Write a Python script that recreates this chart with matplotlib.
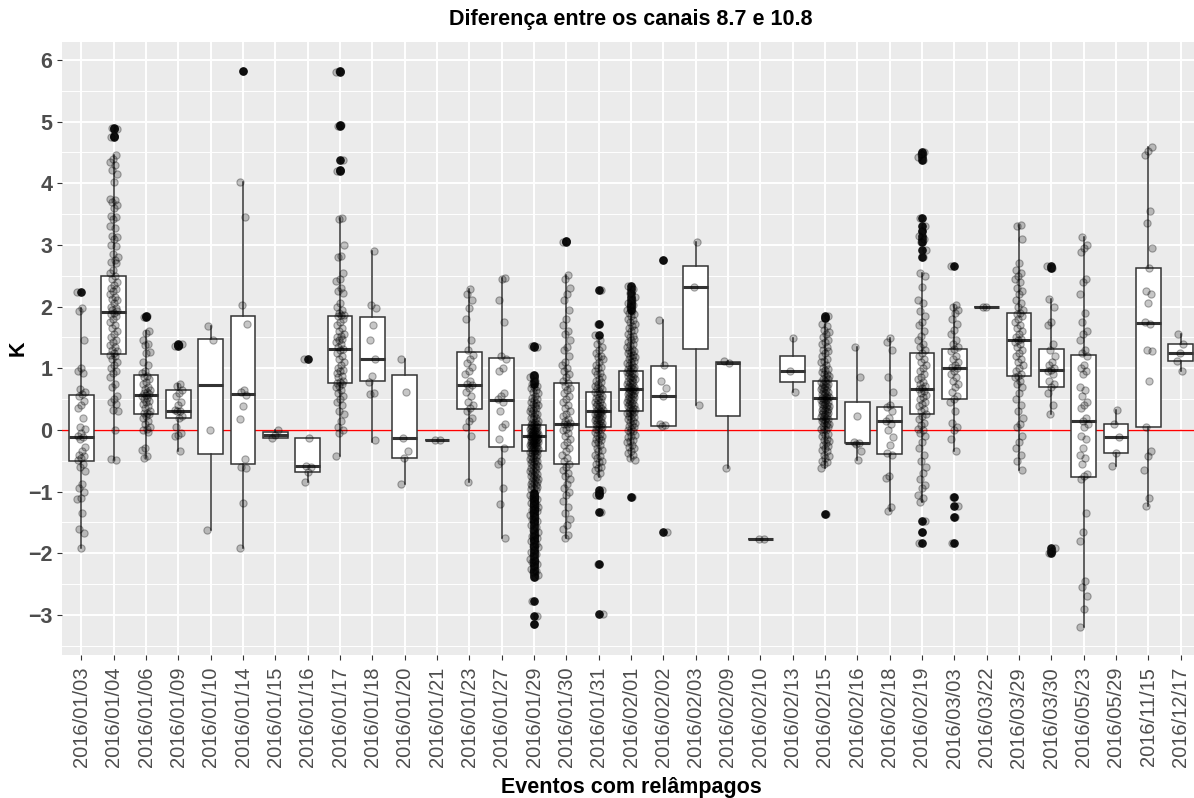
"""
Diferença entre os canais 8.7 e 10.8 - boxplot + jitter per lightning event
"""
import numpy as np
import matplotlib
matplotlib.use('Agg')
import matplotlib.pyplot as plt

plt.rcParams['font.family'] = ['Liberation Sans', 'DejaVu Sans']

# ── Data ───────────────────────────────────────────────────────────────────
dates = ['2016/01/03', '2016/01/04', '2016/01/06', '2016/01/09', '2016/01/10',
         '2016/01/14', '2016/01/15', '2016/01/16', '2016/01/17', '2016/01/18',
         '2016/01/20', '2016/01/21', '2016/01/23', '2016/01/27', '2016/01/29',
         '2016/01/30', '2016/01/31', '2016/02/01', '2016/02/02', '2016/02/03',
         '2016/02/09', '2016/02/10', '2016/02/13', '2016/02/15', '2016/02/16',
         '2016/02/18', '2016/02/19', '2016/03/03', '2016/03/22', '2016/03/29',
         '2016/03/30', '2016/05/23', '2016/05/29', '2016/11/15', '2016/12/17']

# box stats: q1, median, q3, lower whisker, upper whisker
q1 = [-0.50, 1.23, 0.25, 0.19, -0.39, -0.55, -0.13, -0.69, 0.76, 0.80,
      -0.46, -0.16, 0.34, -0.27, -0.35, -0.55, 0.04, 0.31, 0.06, 1.32,
      0.23, -1.77, 0.78, 0.17, -0.22, -0.39, 0.26, 0.50, 1.99, 0.88,
      0.69, -0.76, -0.37, 0.04, 1.11]
med = [-0.12, 1.91, 0.57, 0.31, 0.73, 0.58, -0.08, -0.58, 1.32, 1.15,
       -0.13, -0.16, 0.73, 0.49, -0.10, 0.09, 0.31, 0.66, 0.55, 2.31,
       1.09, -1.77, 0.95, 0.51, -0.21, 0.15, 0.66, 1.01, 1.99, 1.45,
       0.97, 0.15, -0.12, 1.73, 1.25]
q3 = [0.57, 2.50, 0.89, 0.65, 1.47, 1.85, -0.04, -0.13, 1.85, 1.83,
      0.89, -0.16, 1.26, 1.17, 0.08, 0.76, 0.61, 0.96, 1.03, 2.66,
      1.10, -1.77, 1.20, 0.80, 0.46, 0.37, 1.24, 1.32, 1.99, 1.89,
      1.31, 1.22, 0.09, 2.62, 1.39]
whis_lo = [-1.92, -0.49, -0.45, -0.35, -1.62, -1.92, -0.13, -0.85, -0.42, -0.19,
           -0.87, -0.16, -0.85, -1.75, -0.98, -1.76, -0.76, -0.49, 0.06, 0.40,
           -0.61, -1.77, 0.62, -0.62, -0.49, -1.31, -1.17, -0.35, 1.99, -0.65,
           0.26, -3.20, -0.58, -1.24, 0.96]
whis_hi = [1.97, 4.45, 1.60, 0.75, 1.68, 4.02, 0.00, -0.13, 3.43, 2.90,
           1.15, -0.16, 2.28, 2.47, 0.72, 2.51, 1.47, 1.92, 1.79, 3.05,
           1.11, -1.77, 1.49, 1.72, 1.34, 1.49, 2.54, 2.03, 2.00, 3.33,
           2.12, 3.12, 0.32, 4.59, 1.56]

# individual observations (K), estimated from the jittered points
points = [
    [2.23, 1.97, 1.93, 1.45, 1.0, 0.95, 0.92, 0.67, 0.62, 0.58, 0.55, 0.47, 0.4,
     0.35, 0.2, 0.05, 0.02, -0.05, -0.1, -0.12, -0.15, -0.28, -0.35, -0.4, -0.43,
     -0.45, -0.48, -0.55, -0.6, -0.67, -0.87, -0.95, -1.0, -1.1, -1.12, -1.35,
     -1.6, -1.67, -1.92],
    [4.9, 4.88, 4.77, 4.75, 4.45, 4.4, 4.35, 4.3, 4.22, 4.15, 4.02, 3.75, 3.72,
     3.7, 3.65, 3.6, 3.47, 3.45, 3.42, 3.3, 3.27, 3.15, 3.12, 3.1, 3.0, 2.98,
     2.85, 2.8, 2.75, 2.72, 2.7, 2.6, 2.55, 2.5, 2.45, 2.4, 2.35, 2.3, 2.28,
     2.25, 2.2, 2.15, 2.12, 2.1, 2.05, 2.0, 1.98, 1.95, 1.92, 1.9, 1.88, 1.85,
     1.8, 1.75, 1.7, 1.65, 1.6, 1.55, 1.5, 1.45, 1.42, 1.38, 1.35, 1.3, 1.28,
     1.25, 1.22, 1.2, 1.15, 1.1, 1.05, 1.0, 0.95, 0.92, 0.85, 0.75, 0.7, 0.55,
     0.5, 0.45, 0.42, 0.32, 0.3, 0.0, -0.47, -0.48],
    [1.84, 1.83, 1.6, 1.57, 1.45, 1.4, 1.38, 1.27, 1.25, 1.1, 1.05, 0.95, 0.92,
     0.88, 0.85, 0.82, 0.78, 0.75, 0.7, 0.67, 0.65, 0.62, 0.6, 0.58, 0.57, 0.55,
     0.52, 0.5, 0.47, 0.45, 0.42, 0.38, 0.35, 0.3, 0.28, 0.27, 0.25, 0.22, 0.2,
     0.15, 0.1, 0.05, 0.02, 0.0, -0.03, -0.3, -0.33, -0.42, -0.45],
    [1.4, 1.38, 1.36, 0.75, 0.72, 0.65, 0.6, 0.55, 0.45, 0.4, 0.33, 0.31, 0.3,
     0.22, 0.2, 0.05, -0.05, -0.08, -0.1, -0.35],
    [1.68, 1.45, 0.0, -1.62],
    [5.82, 4.02, 3.45, 2.02, 1.72, 0.65, 0.62, 0.57, 0.38, 0.17, -0.47, -0.6,
     -0.62, -1.18, -1.92],
    [0.0, -0.08, -0.13],
    [1.15, -0.13, -0.58, -0.6, -0.68, -0.85],
    [5.82, 5.8, 4.94, 4.93, 4.37, 4.22, 4.2, 3.43, 3.42, 3.0, 2.82, 2.8, 2.55,
     2.45, 2.42, 2.3, 2.25, 2.22, 2.05, 2.0, 1.95, 1.9, 1.87, 1.86, 1.85, 1.8,
     1.75, 1.7, 1.65, 1.6, 1.55, 1.52, 1.5, 1.48, 1.45, 1.42, 1.4, 1.35, 1.32,
     1.3, 1.25, 1.2, 1.15, 1.1, 1.05, 1.0, 0.97, 0.95, 0.92, 0.88, 0.85, 0.8,
     0.78, 0.76, 0.75, 0.72, 0.7, 0.65, 0.6, 0.55, 0.5, 0.45, 0.4, 0.3, 0.25,
     0.15, 0.05, 0.0, -0.05, -0.42],
    [2.9, 2.02, 1.97, 1.7, 1.45, 1.15, 0.87, 0.77, 0.6, 0.58, -0.17],
    [1.15, 0.62, -0.13, -0.35, -0.45, -0.87],
    [-0.16, -0.16],
    [2.28, 2.2, 2.1, 1.97, 1.8, 1.45, 1.3, 1.22, 1.15, 1.08, 1.02, 0.95, 0.9,
     0.8, 0.75, 0.73, 0.68, 0.62, 0.55, 0.45, 0.4, 0.35, 0.3, 0.2, 0.15, 0.05,
     -0.1, -0.85],
    [2.47, 2.45, 2.1, 1.75, 1.2, 1.15, 1.0, 0.95, 0.6, 0.55, 0.5, 0.45, 0.3,
     0.1, 0.05, -0.15, -0.3, -0.5, -0.55, -0.95, -1.2, -1.75],
    [1.36, 1.35, 0.89, 0.85, 0.8, 0.75, 0.72, 0.7, 0.68, 0.65, 0.62, 0.6, 0.55,
     0.52, 0.5, 0.48, 0.45, 0.44, 0.42, 0.4, 0.38, 0.36, 0.35, 0.32, 0.3, 0.28,
     0.27, 0.25, 0.22, 0.2, 0.19, 0.18, 0.15, 0.13, 0.12, 0.1, 0.09, 0.08, 0.07,
     0.06, 0.05, 0.04, 0.03, 0.03, 0.02, 0.01, 0.0, -0.01, -0.02, -0.02, -0.03,
     -0.04, -0.05, -0.06, -0.06, -0.07, -0.08, -0.09, -0.1, -0.1, -0.1, -0.11,
     -0.12, -0.12, -0.13, -0.14, -0.15, -0.15, -0.16, -0.17, -0.18, -0.18,
     -0.19, -0.2, -0.2, -0.21, -0.22, -0.22, -0.23, -0.24, -0.25, -0.25, -0.26,
     -0.27, -0.28, -0.28, -0.3, -0.31, -0.32, -0.33, -0.34, -0.35, -0.36,
     -0.37, -0.38, -0.4, -0.41, -0.42, -0.44, -0.45, -0.47, -0.48, -0.5,
     -0.51, -0.52, -0.54, -0.55, -0.57, -0.58, -0.6, -0.62, -0.63, -0.65,
     -0.66, -0.68, -0.7, -0.71, -0.73, -0.75, -0.76, -0.78, -0.8, -0.81,
     -0.83, -0.85, -0.86, -0.88, -0.9, -0.91, -0.93, -0.95, -0.96, -0.98,
     -1.02, -1.05, -1.08, -1.1, -1.12, -1.15, -1.18, -1.2, -1.22, -1.25,
     -1.28, -1.3, -1.32, -1.35, -1.38, -1.42, -1.45, -1.48, -1.5, -1.55, -1.58,
     -1.62, -1.65, -1.7, -1.72, -1.75, -1.78, -1.8, -1.85, -1.88, -1.9, -1.95,
     -1.98, -2.02, -2.05, -2.1, -2.12, -2.15, -2.18, -2.2, -2.25, -2.28, -2.3,
     -2.35, -2.38, -2.77, -3.02, -3.15],
    [3.07, 3.05, 2.51, 2.45, 2.3, 2.2, 2.1, 1.95, 1.8, 1.7, 1.6, 1.55, 1.45,
     1.35, 1.3, 1.2, 1.1, 1.05, 1.0, 0.95, 0.9, 0.85, 0.8, 0.76, 0.72, 0.68,
     0.65, 0.6, 0.55, 0.5, 0.45, 0.4, 0.35, 0.3, 0.25, 0.22, 0.18, 0.15, 0.12,
     0.1, 0.09, 0.05, 0.02, 0.0, -0.05, -0.1, -0.15, -0.2, -0.25, -0.3, -0.35,
     -0.4, -0.45, -0.5, -0.55, -0.6, -0.65, -0.7, -0.75, -0.8, -0.88, -0.95,
     -1.0, -1.05, -1.15, -1.25, -1.35, -1.45, -1.55, -1.6, -1.7, -1.76],
    [2.27, 1.72, 1.54, 1.45, 1.4, 1.35, 1.3, 1.25, 1.2, 1.18, 1.15, 1.1, 1.05,
     1.02, 1.0, 0.95, 0.92, 0.9, 0.85, 0.82, 0.8, 0.78, 0.75, 0.72, 0.7, 0.68,
     0.66, 0.63, 0.61, 0.6, 0.58, 0.55, 0.53, 0.52, 0.5, 0.48, 0.46, 0.45,
     0.42, 0.4, 0.39, 0.38, 0.35, 0.34, 0.33, 0.31, 0.3, 0.29, 0.28, 0.26,
     0.25, 0.24, 0.22, 0.21, 0.2, 0.18, 0.17, 0.16, 0.14, 0.13, 0.12, 0.1,
     0.09, 0.08, 0.06, 0.05, 0.04, 0.02, 0.01, 0.0, -0.03, -0.06, -0.08, -0.1,
     -0.13, -0.15, -0.17, -0.2, -0.22, -0.25, -0.3, -0.33, -0.35, -0.4, -0.42,
     -0.45, -0.5, -0.52, -0.55, -0.6, -0.62, -0.65, -0.7, -0.76, -0.98, -1.02,
     -1.05, -1.33, -2.17, -2.98],
    [2.33, 2.28, 2.22, 2.15, 2.1, 2.05, 2.02, 2.0, 1.95, 1.92, 1.9, 1.88, 1.85,
     1.8, 1.78, 1.75, 1.72, 1.68, 1.65, 1.62, 1.6, 1.55, 1.52, 1.5, 1.48, 1.45,
     1.42, 1.4, 1.38, 1.35, 1.32, 1.3, 1.28, 1.27, 1.25, 1.22, 1.2, 1.18, 1.16,
     1.15, 1.12, 1.1, 1.08, 1.06, 1.05, 1.02, 1.0, 0.99, 0.98, 0.96, 0.94,
     0.93, 0.92, 0.9, 0.88, 0.87, 0.86, 0.84, 0.82, 0.81, 0.8, 0.78, 0.76,
     0.75, 0.74, 0.72, 0.7, 0.69, 0.68, 0.66, 0.65, 0.64, 0.63, 0.61, 0.6,
     0.59, 0.58, 0.56, 0.54, 0.53, 0.52, 0.5, 0.48, 0.47, 0.46, 0.44, 0.42,
     0.41, 0.4, 0.38, 0.36, 0.35, 0.34, 0.32, 0.31, 0.29, 0.28, 0.27, 0.25,
     0.22, 0.21, 0.2, 0.17, 0.14, 0.13, 0.11, 0.08, 0.06, 0.05, 0.02, 0.0,
     -0.02, -0.04, -0.08, -0.1, -0.12, -0.16, -0.18, -0.2, -0.25, -0.28, -0.3,
     -0.35, -0.38, -0.4, -0.45, -0.49, -1.08],
    [2.75, 1.79, 1.05, 0.8, 0.68, 0.55, 0.1, 0.08, 0.06, -1.66],
    [3.05, 2.31, 0.4],
    [1.11, 1.09, -0.61],
    [-1.77, -1.77],
    [1.49, 0.95, 0.62],
    [1.84, 1.82, 1.72, 1.68, 1.62, 1.58, 1.55, 1.5, 1.45, 1.42, 1.4, 1.35, 1.3,
     1.28, 1.25, 1.2, 1.15, 1.12, 1.1, 1.05, 1.0, 0.99, 0.97, 0.94, 0.91, 0.9,
     0.88, 0.85, 0.83, 0.82, 0.8, 0.78, 0.76, 0.75, 0.74, 0.72, 0.7, 0.69,
     0.68, 0.66, 0.64, 0.63, 0.62, 0.6, 0.58, 0.57, 0.56, 0.54, 0.53, 0.52,
     0.51, 0.5, 0.49, 0.48, 0.46, 0.45, 0.44, 0.42, 0.41, 0.4, 0.38, 0.37,
     0.36, 0.34, 0.33, 0.32, 0.3, 0.29, 0.28, 0.26, 0.25, 0.24, 0.22, 0.21,
     0.2, 0.18, 0.17, 0.16, 0.15, 0.12, 0.11, 0.1, 0.08, 0.06, 0.05, 0.02,
     0.01, 0.0, -0.03, -0.06, -0.08, -0.1, -0.14, -0.16, -0.18, -0.22, -0.24,
     -0.26, -0.3, -0.33, -0.35, -0.4, -0.43, -0.45, -0.5, -0.52, -0.55, -0.62,
     -1.37],
    [1.34, 0.85, 0.22, -0.2, -0.22, -0.23, -0.35, -0.49],
    [1.49, 1.42, 1.3, 0.85, 0.62, 0.4, 0.37, 0.3, 0.2, 0.15, 0.1, 0.0, -0.12,
     -0.25, -0.38, -0.4, -0.75, -0.78, -1.25, -1.31],
    [4.5, 4.47, 4.42, 4.37, 3.43, 3.3, 3.23, 3.15, 3.1, 3.05, 2.92, 2.81, 2.54,
     2.5, 2.32, 2.1, 2.05, 1.92, 1.85, 1.75, 1.7, 1.6, 1.52, 1.45, 1.4, 1.35,
     1.3, 1.25, 1.2, 1.15, 1.1, 1.05, 1.0, 0.95, 0.9, 0.85, 0.82, 0.78, 0.75,
     0.72, 0.68, 0.66, 0.63, 0.6, 0.57, 0.54, 0.5, 0.46, 0.42, 0.38, 0.34, 0.3,
     0.26, 0.22, 0.18, 0.12, 0.08, 0.02, 0.0, -0.05, -0.1, -0.2, -0.3, -0.4,
     -0.5, -0.6, -0.7, -0.8, -0.9, -0.95, -1.05, -1.1, -1.17, -1.47, -1.66,
     -1.84],
    [2.65, 2.03, 2.0, 1.95, 1.9, 1.8, 1.72, 1.62, 1.55, 1.45, 1.4, 1.35, 1.32,
     1.28, 1.2, 1.15, 1.1, 1.05, 1.02, 1.0, 0.95, 0.9, 0.85, 0.8, 0.75, 0.7,
     0.62, 0.55, 0.5, 0.45, 0.3, 0.12, 0.05, 0.0, -0.15, -0.35, -1.09, -1.23,
     -1.42, -1.84],
    [2.0, 1.99],
    [3.33, 3.3, 3.1, 2.7, 2.6, 2.55, 2.5, 2.45, 2.4, 2.3, 2.25, 2.2, 2.1, 2.05,
     2.0, 1.95, 1.9, 1.88, 1.85, 1.8, 1.75, 1.7, 1.65, 1.6, 1.55, 1.5, 1.47,
     1.45, 1.42, 1.4, 1.35, 1.3, 1.25, 1.2, 1.15, 1.1, 1.05, 1.0, 0.95, 0.9,
     0.88, 0.85, 0.8, 0.75, 0.7, 0.6, 0.5, 0.4, 0.3, 0.2, 0.1, 0.05, -0.1,
     -0.2, -0.3, -0.4, -0.5, -0.65],
    [2.65, 2.63, 2.12, 2.0, 1.75, 1.7, 1.4, 1.3, 1.2, 1.1, 1.05, 1.0, 0.97,
     0.95, 0.9, 0.8, 0.75, 0.7, 0.6, 0.4, 0.26, -1.92, -1.97, -1.99],
    [3.12, 3.0, 2.95, 2.88, 2.45, 2.4, 2.2, 1.9, 1.75, 1.6, 1.55, 1.45, 1.3,
     1.25, 1.2, 1.05, 1.0, 0.95, 0.9, 0.7, 0.65, 0.55, 0.45, 0.4, 0.35, 0.2,
     0.15, 0.1, 0.05, -0.1, -0.15, -0.3, -0.4, -0.45, -0.55, -0.72, -0.75,
     -0.8, -1.35, -1.65, -1.8, -2.45, -2.55, -2.7, -2.9, -3.2],
    [0.32, 0.09, -0.12, -0.37, -0.58],
    [4.58, 4.52, 4.45, 3.55, 3.35, 2.95, 2.62, 2.25, 2.2, 2.05, 1.75, 1.72, 1.3,
     1.28, 0.8, 0.04, -0.35, -0.42, -0.65, -1.1, -1.24],
    [1.56, 1.39, 1.25, 1.11, 0.96],
]

# ── Figure ─────────────────────────────────────────────────────────────────
W, H = 1194, 798
fig = plt.figure(figsize=(W / 100, H / 100), dpi=100)
# panel runs a little past the right edge, as in the original export
ax = fig.add_axes([62 / W, 1 - 655 / H, 1138 / W, 613 / H])
ax.set_facecolor('#EBEBEB')
for s in ax.spines.values():
    s.set_visible(False)

pos = np.arange(1, len(dates) + 1)

ax.axhline(0, color='red', linewidth=1.0, zorder=1.5)

# ── Boxes ──────────────────────────────────────────────────────────────────
stats = []
for i in range(len(dates)):
    vals = np.array(points[i])
    out = vals[(vals < whis_lo[i] - 1e-9) | (vals > whis_hi[i] + 1e-9)]
    stats.append(dict(q1=q1[i], med=med[i], q3=q3[i],
                      whislo=whis_lo[i], whishi=whis_hi[i], fliers=out))

ax.bxp(stats, positions=pos, widths=0.76, patch_artist=True, showcaps=False,
       manage_ticks=False,
       boxprops=dict(facecolor='white', edgecolor='#333333', linewidth=1.1),
       medianprops=dict(color='#333333', linewidth=2.2),
       whiskerprops=dict(color='#333333', linewidth=1.1),
       flierprops=dict(marker='o', markerfacecolor='#141414',
                       markeredgecolor='#141414', markersize=5.2),
       zorder=2)

# ── Jittered points (fixed low-discrepancy offsets) ────────────────────────
for i, vals in enumerate(points):
    n = len(vals)
    off = ((np.arange(n) * 0.618034 + 0.3 * i) % 1.0 - 0.5) * 0.25
    ax.plot(pos[i] + off, vals, linestyle='none', marker='o', markersize=5.2,
            markerfacecolor=(0, 0, 0, 0.22), markeredgecolor=(0, 0, 0, 0.32),
            markeredgewidth=0.8, zorder=3)

# ── Axes, grid, labels ─────────────────────────────────────────────────────
ax.set_xlim(0.4, len(dates) + 0.6)
ax.set_ylim(-3.65, 6.29)
ax.set_yticks(np.arange(-3, 7))
ax.set_yticks(np.arange(-3.5, 6.5, 1.0), minor=True)
ax.set_xticks(pos)
ax.set_xticklabels(dates, rotation=90)
ax.grid(which='major', color='white', linewidth=1.4)
ax.grid(which='minor', axis='y', color='white', linewidth=0.7)
ax.set_axisbelow(True)

ax.tick_params(axis='x', length=3.6, width=0.8, color='#333333', pad=5,
               labelsize=14.5, labelcolor='#4D4D4D')
ax.tick_params(axis='y', length=3.6, width=0.8, color='#333333', pad=3.5,
               labelsize=15.5, labelcolor='#4D4D4D')
ax.tick_params(which='minor', length=0)
for t in ax.get_yticklabels():
    t.set_fontweight('bold')

fig.text(631 / W, 1 - 20 / H, 'Diferença entre os canais 8.7 e 10.8',
         ha='center', va='center', fontsize=15.5, fontweight='bold')
fig.text(631 / W, 1 - 787 / H, 'Eventos com relâmpagos',
         ha='center', va='center', fontsize=15.5, fontweight='bold')
fig.text(18 / W, 1 - 348 / H, 'K', rotation=90,
         ha='center', va='center', fontsize=15.5, fontweight='bold')

fig.savefig('out.png', dpi=100)
